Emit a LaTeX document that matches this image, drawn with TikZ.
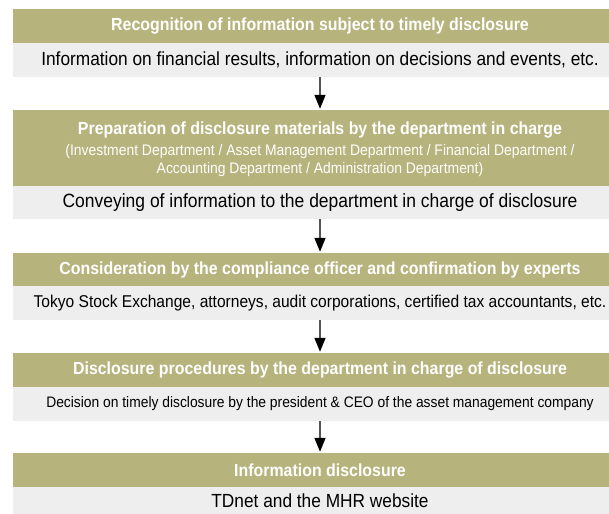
\documentclass[tikz,border=0pt]{standalone}
\usepackage{fontspec}
\usetikzlibrary{arrows.meta}
\newfontfamily\condfont[FakeStretch=0.91]{Liberation Sans}
\definecolor{olive}{HTML}{B6B37D}
\definecolor{lightgray}{HTML}{EEEEEE}
\definecolor{shaftgray}{HTML}{555555}
\tikzset{
  x=1pt, y=1pt,
  band/.style={fill=olive, minimum width=614pt, minimum height=34pt, inner sep=0pt, text=white, align=center,
    font=\condfont\bfseries\fontsize{17.5}{20}\selectfont},
  graybox/.style={fill=lightgray, minimum width=614pt, minimum height=34pt, inner sep=0pt,
    text=black, align=center, font=\condfont\fontsize{19}{22}\selectfont},
  bandtext/.style={inner sep=0pt, anchor=base, text=white},
  flow/.style={draw=shaftgray, line width=1.6pt, shorten >=1pt,
    -{Triangle[width=11pt,length=14pt,color=black]}}
}
\begin{document}
\begin{tikzpicture}
\useasboundingbox (0,0) rectangle (609,-513);
\clip (0,0) rectangle (609,-513);
% step 1
\node[band] (b1) at (320,-26) {Recognition of information subject to timely disclosure};
\node[graybox] (g1) at (320,-60) {Information on financial results, information on decisions and events, etc.};
% step 2
\node[band, minimum height=76pt] (b2) at (320,-148) {};
\node[bandtext, font=\condfont\bfseries\fontsize{17.5}{20}\selectfont] (b2t) at (320,-135) {Preparation of disclosure materials by the department in charge};
\node[bandtext, font=\condfont\fontsize{15.3}{18}\selectfont] (b2s1) at (320,-155) {(Investment Department / Asset Management Department / Financial Department /};
\node[bandtext, font=\condfont\fontsize{15.3}{18}\selectfont] (b2s2) at (320,-173) {Accounting Department / Administration Department)};
\node[graybox, minimum height=33pt, font=\condfont\fontsize{19.2}{22}\selectfont] (g2) at (320,-202.5) {Conveying of information to the department in charge of disclosure};
% step 3
\node[band, minimum height=33pt] (b3) at (320,-269.5) {Consideration by the compliance officer and confirmation by experts};
\node[graybox, font=\condfont\fontsize{17.1}{20}\selectfont] (g3) at (320,-303) {Tokyo Stock Exchange, attorneys, audit corporations, certified tax accountants, etc.};
% step 4
\node[band] (b4) at (320,-370) {Disclosure procedures by the department in charge of disclosure};
\node[graybox, font=\condfont\fontsize{15.2}{18}\selectfont] (g4) at (320,-404) {Decision on timely disclosure by the president \& CEO of the asset management company};
% step 5
\node[band] (b5) at (320,-470) {Information disclosure};
\node[graybox, minimum height=28pt] (g5) at (320,-501) {TDnet and the MHR website};
% connectors
\draw[flow] (g1.south) -- (b2.north);
\draw[flow] (g2.south) -- (b3.north);
\draw[flow] (g3.south) -- (b4.north);
\draw[flow] (g4.south) -- (b5.north);
\end{tikzpicture}
\end{document}
